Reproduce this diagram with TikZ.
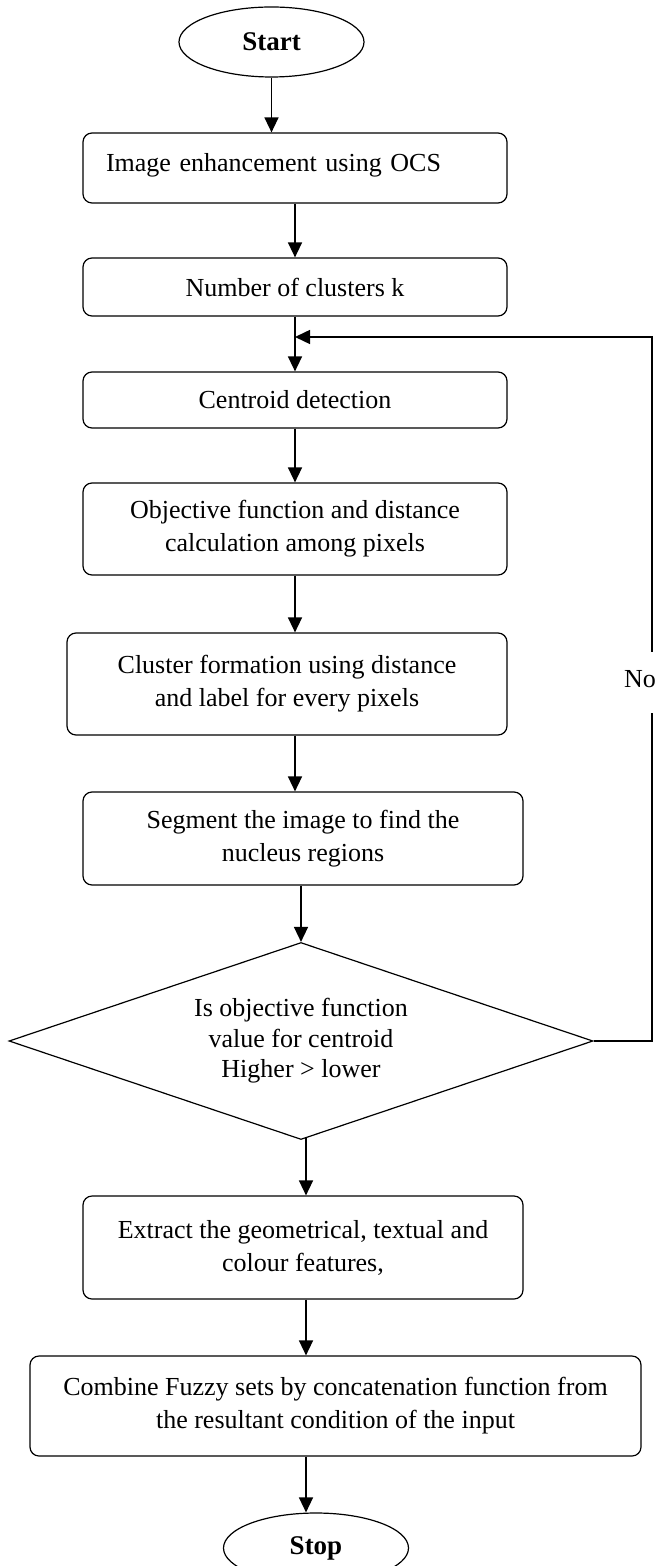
\documentclass[tikz,border=0pt]{standalone}
\usepackage{fontspec}
\setmainfont{Liberation Serif}
\usetikzlibrary{shapes.geometric,arrows.meta,calc}
\begin{document}
\begin{tikzpicture}[x=0.5pt,y=-0.5pt,
  every node/.style={font=\fontsize{13pt}{16.5pt}\selectfont},
  box/.style={draw, line width=0.6pt, rounded corners=4.5pt, align=center, inner sep=0pt, minimum width=212pt},
  term/.style={draw, ellipse, line width=0.6pt, inner sep=0pt, minimum width=92.5pt, minimum height=35pt, font=\fontsize{13.5pt}{16pt}\selectfont\bfseries},
  dec/.style={draw, diamond, aspect=2.96, line width=0.6pt, inner sep=0pt, minimum width=292pt, minimum height=98.5pt, align=center, font=\fontsize{13pt}{15.3pt}\selectfont},
  arr/.style={line width=0.75pt, -{Triangle[length=7.5pt,width=7pt]}},
  conn/.style={line width=0.75pt}]
\useasboundingbox (0,0) rectangle (654,1566);
\node[term] (st) at (271.5,42) {Start};
\node[box, minimum height=35pt, text width=189pt, align=left, inner xsep=11.5pt, text depth=6pt] (b1) at (295,168) {Image enhancement using OCS};
\node[box, minimum height=29pt] (b2) at (295,287) {Number of clusters k};
\node[box, minimum height=28pt] (b3) at (295,400) {Centroid detection};
\node[box, minimum height=46pt] (b4) at (295,529) {Objective function and distance\\calculation among pixels};
\node[box, minimum width=220pt, minimum height=51pt] (b5) at (287,684) {Cluster formation using distance\\and label for every pixels};
\node[box, minimum width=220pt, minimum height=46.5pt] (b6) at (303,838.5) {Segment the image to find the\\nucleus regions};
\node[dec] (d) at (301,1041) {Is objective function\\value for centroid\\Higher > lower};
\node[box, minimum width=220pt, minimum height=51.5pt] (b7) at (303,1247.5) {Extract the geometrical, textual and\\colour features,};
\node[box, minimum width=305.5pt, minimum height=50pt] (b8) at (335.5,1406) {Combine Fuzzy sets by concatenation function from\\the resultant condition of the input};
\node[term] (sp) at (316,1548) {Stop};
\node[inner sep=0pt, minimum height=30.5pt, text depth=4pt] (no) at (640,682.5) {No};
\coordinate (lp) at (652,337);
\coordinate (ax) at (306,1137);
\draw[arr] (st.south) -- (st.south |- b1.north);
\draw[arr] (b1.south) -- (b2.north);
\draw[arr] (b2.south) -- (b3.north);
\draw[arr] (b3.south) -- (b4.north);
\draw[arr] (b4.south) -- (b4.south |- b5.north);
\draw[arr] (b4.south |- b5.south) -- (b4.south |- b6.north);
\draw[arr] (b6.south -| d.north) -- (d.north);
\draw[arr] (ax) -- (ax |- b7.north);
\draw[arr] (ax |- b7.south) -- (ax |- b8.north);
\draw[arr] (ax |- b8.south) -- (ax |- sp.north);
\draw[conn] (d.east) -| (lp |- no.south);
\draw[arr] (lp |- no.north) -- (lp) -- (b3.north |- lp);
\end{tikzpicture}
\end{document}
